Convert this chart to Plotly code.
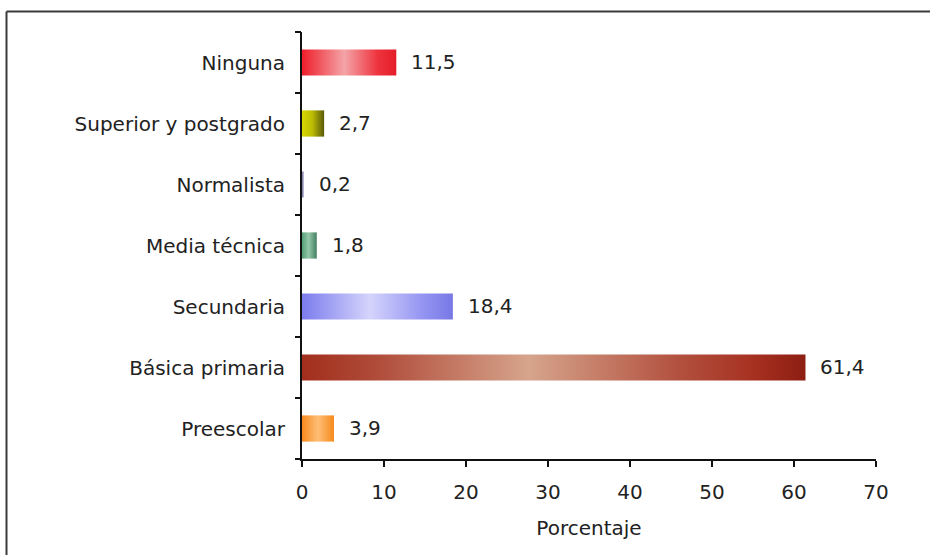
import plotly.graph_objects as go

# Education level distribution (percent)
categories = ["Preescolar", "Básica primaria", "Secundaria", "Media técnica",
              "Normalista", "Superior y postgrado", "Ninguna"]
values = [3.9, 61.4, 18.4, 1.8, 0.2, 2.7, 11.5]

# Left-to-right shading for each bar (edge, highlight, edge)
bar_scales = [
    [[0, "#F68A1E"], [0.5, "#FFBE76"], [1, "#F58A1C"]],
    [[0, "#A22E1C"], [0.15, "#B04C3A"], [0.45, "#D6A48C"], [0.75, "#B2503E"], [0.9, "#A63020"], [1, "#8C1E12"]],
    [[0, "#7C7CEE"], [0.45, "#D4D4FC"], [0.8, "#9494F2"], [1, "#7878E6"]],
    [[0, "#54A076"], [0.45, "#94C8AA"], [1, "#447E60"]],
    [[0, "#8888B0"], [1, "#8888B0"]],
    [[0, "#D6D600"], [0.45, "#BEBE06"], [1, "#5A5A08"]],
    [[0, "#EE1E2A"], [0.45, "#F4A4A8"], [0.8, "#EE343E"], [1, "#E41C28"]],
]

x_ticks = [0, 10, 20, 30, 40, 50, 60, 70]
x_title = "Porcentaje"

FONT = "DejaVu Sans"
TEXT = "#222222"
SIZE = 20
half = 0.215

fig = go.Figure()

for i, (cat, v) in enumerate(zip(categories, values)):
    fig.add_trace(go.Scatter(
        x=[0, v, v, 0, 0],
        y=[i - half, i - half, i + half, i + half, i - half],
        mode="lines",
        line=dict(width=0),
        fill="toself",
        fillgradient=dict(type="horizontal", colorscale=bar_scales[i]),
        hoverinfo="skip",
        showlegend=False,
    ))
    fig.add_annotation(
        x=v, y=i, text=f"{v:.1f}".replace(".", ","),
        xanchor="left", yanchor="middle", xshift=13, yshift=1, showarrow=False,
        font=dict(family=FONT, size=SIZE, color=TEXT),
    )

# boundary ticks on the category axis
fig.add_trace(go.Scatter(x=[None], y=[None], yaxis="y2", showlegend=False))

fig.update_layout(
    width=930, height=555,
    margin=dict(l=302, r=54, t=32, b=96),
    paper_bgcolor="white", plot_bgcolor="white",
    font=dict(family=FONT, size=SIZE, color=TEXT),
    xaxis=dict(
        range=[0, 70], tickvals=x_ticks, ticktext=[str(t) for t in x_ticks],
        showgrid=False, zeroline=False,
        showline=True, linecolor="#111111", linewidth=2,
        ticks="outside", ticklen=6, tickwidth=2, tickcolor="#111111",
        ticklabelstandoff=8, tickfont=dict(size=SIZE),
        title=dict(text=x_title, standoff=18, font=dict(size=SIZE)),
        fixedrange=True,
    ),
    yaxis=dict(
        range=[-0.5, 6.5], tickvals=list(range(len(categories))), ticktext=categories,
        showgrid=False, zeroline=False,
        showline=True, linecolor="#111111", linewidth=2,
        ticks="", ticklabelstandoff=11, tickfont=dict(size=SIZE),
    ),
    yaxis2=dict(
        range=[-0.5, 6.5], overlaying="y", side="left",
        tickvals=[k + 0.5 for k in range(-1, len(categories))],
        showticklabels=False, showgrid=False, zeroline=False,
        ticks="outside", ticklen=6, tickwidth=2, tickcolor="#111111",
    ),
    shapes=[
        dict(type="line", xref="paper", yref="paper",
             x0=-0.5148, x1=1.2, y0=1.048, y1=1.048,
             line=dict(color="#3a3a3a", width=2)),
        dict(type="line", xref="paper", yref="paper",
             x0=-0.5148, x1=-0.5148, y0=1.048, y1=-0.5,
             line=dict(color="#3a3a3a", width=2)),
    ],
)

fig.write_html("out.html")
